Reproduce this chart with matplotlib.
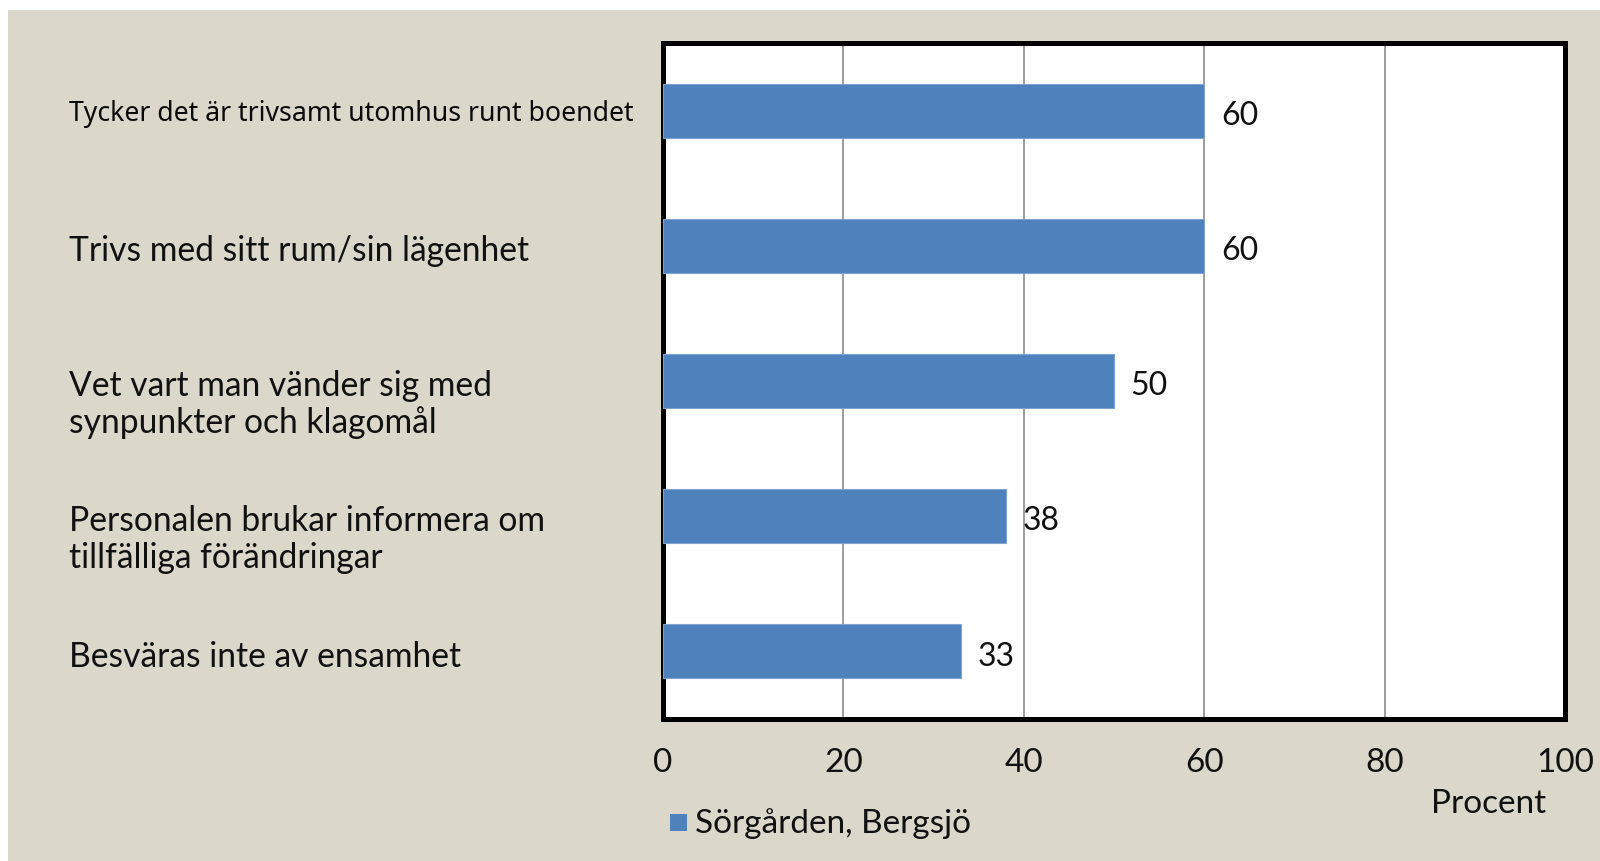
import matplotlib
matplotlib.use("Agg")
import matplotlib.pyplot as plt
from matplotlib.patches import Rectangle

# data
categories = [
    "Tycker det är trivsamt utomhus runt boendet",
    "Trivs med sitt rum/sin lägenhet",
    "Vet vart man vänder sig med\nsynpunkter och klagomål",
    "Personalen brukar informera om\ntillfälliga förändringar",
    "Besväras inte av ensamhet",
]
values = [60, 60, 50, 38, 33]
series_name = "Sörgården, Bergsjö"
x_ticks = [0, 20, 40, 60, 80, 100]
x_label = "Procent"

BEIGE = "#dbd8cb"
BLUE = "#4f81bd"
FONT = "Lato"


def main() -> None:
    fig = plt.figure(figsize=(16, 8.62), dpi=100, facecolor="white")
    # beige panel, leaving a thin white strip on top and left
    fig.patches.append(Rectangle((8 / 1600, 0), 1, 1 - 11 / 862,
                                 transform=fig.transFigure, facecolor=BEIGE,
                                 edgecolor="none", zorder=-10))

    ax = fig.add_axes([663 / 1600, 142 / 862, 902 / 1600, 676 / 862])
    ax.set_facecolor("white")

    ypos = list(range(len(categories)))
    ax.barh(ypos, values, height=0.4, color=BLUE, edgecolor="#7ea3d2",
            linewidth=0.8, zorder=3)
    ax.set_ylim(len(categories) - 0.5, -0.5)
    ax.set_xlim(0, 100)

    ax.set_xticks(x_ticks)
    ax.set_xticklabels([str(t) for t in x_ticks], fontfamily=FONT, fontsize=24)
    ax.tick_params(axis="x", length=0, pad=20, colors="#111111")
    ax.set_yticks([])
    ax.grid(axis="x", color="#8c8c8c", linewidth=1.2, zorder=1)
    ax.set_axisbelow(True)
    for sp in ax.spines.values():
        sp.set_linewidth(3.6)
        sp.set_color("black")

    # category labels, left aligned at the panel's left margin
    for i, cat in enumerate(categories):
        if i == 0:
            ax.annotate(cat, xy=(69 / 1600, i), xycoords=("figure fraction", "data"),
                        xytext=(0, 8.5), textcoords="offset points",
                        ha="left", va="top", fontsize=19.2, fontfamily="Noto Sans",
                        fontweight="medium", color="#0a0a0a", annotation_clip=False)
        else:
            ax.annotate(cat, xy=(69 / 1600, i), xycoords=("figure fraction", "data"),
                        xytext=(0, 8.5), textcoords="offset points",
                        ha="left", va="top", fontsize=24.2, fontfamily=FONT,
                        linespacing=1.16, color="#111111", annotation_clip=False)

    # value labels at bar ends
    for i, v in enumerate(values):
        ax.annotate(str(v), xy=(v, i), xytext=(12, -3), textcoords="offset points",
                    ha="left", va="center", fontsize=23, fontfamily=FONT,
                    color="#111111")

    fig.text(1489 / 1600, 1 - 804 / 862, x_label, ha="center", va="center",
             fontsize=24, fontfamily=FONT, color="#111111")

    # legend
    fig.patches.append(Rectangle((670 / 1600, 1 - 832 / 862), 17 / 1600, 17 / 862,
                                 transform=fig.transFigure, facecolor=BLUE,
                                 edgecolor="none", zorder=2))
    fig.text(695 / 1600, 1 - 824 / 862, series_name, ha="left", va="center",
             fontsize=24, fontfamily=FONT, color="#111111")

    fig.savefig("out.png", dpi=100, facecolor=fig.get_facecolor())


if __name__ == "__main__":
    main()
